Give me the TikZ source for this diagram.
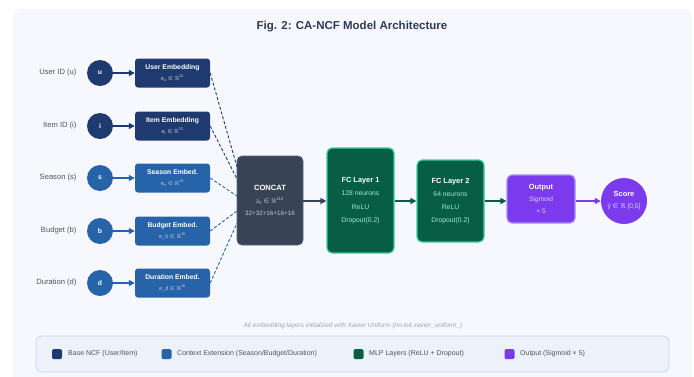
\documentclass[tikz,border=0pt]{standalone}
\usepackage{fontspec}
\setmainfont{Liberation Sans}
\newfontfamily\dv{DejaVu Sans}
\usetikzlibrary{arrows.meta}
\definecolor{navy}{HTML}{1E3A6E}
\definecolor{ctxblue}{HTML}{2763A8}
\definecolor{slate}{HTML}{394356}
\definecolor{slateb}{HTML}{59647A}
\definecolor{mlp}{HTML}{075E45}
\definecolor{mlpb}{HTML}{34D399}
\definecolor{outp}{HTML}{7C3AED}
\definecolor{outpb}{HTML}{A78BFA}
\definecolor{panel}{HTML}{F7F8FE}
\definecolor{legfill}{HTML}{EDF1FA}
\definecolor{legdraw}{HTML}{C9D4EA}
\definecolor{titlec}{HTML}{2D3B58}
\definecolor{lbl}{HTML}{4B5563}
\definecolor{foot}{HTML}{9CA3AF}
\definecolor{subblue}{HTML}{B9C7E2}
\definecolor{subgray}{HTML}{C3C8D2}
\definecolor{subgreen}{HTML}{A7E8CC}
\definecolor{subpurp}{HTML}{DCCFFD}
\newcommand{\fs}[2]{\fontsize{#1}{#2}\selectfont}
\newcommand{\inR}{{\dv ∈ ℝ}}
\tikzset{
  inputc/.style={circle, minimum size=26pt, inner sep=0pt, text=white, font=\fs{6.8}{8}\bfseries},
  embbox/.style={rounded corners=3pt, minimum width=75pt, minimum height=29pt, inner sep=0pt, align=center, text=white, font=\fs{5.6}{11}},
  inlabel/.style={anchor=east, text=lbl, font=\fs{7.6}{9}},
  bigbox/.style={rounded corners=5pt, inner sep=0pt, align=center, line width=1.2pt},
  conn/.style={line width=1.3pt, -{Triangle[length=6pt,width=6pt]}},
  dashline/.style={dashed, dash pattern=on 3pt off 2pt, line width=0.9pt},
  legsq/.style={rounded corners=1.5pt, minimum size=10pt, inner sep=0pt},
  legtxt/.style={anchor=west, text=lbl, font=\fs{7}{8}, inner sep=0pt}
}
\begin{document}
\begin{tikzpicture}[x=1pt,y=-1pt]
\useasboundingbox (0,0) rectangle (694,376);
\fill[white] (0,0) rectangle (694,376);
\fill[panel, rounded corners=8pt] (13,9) rectangle (692,395);

\node[text=titlec, font=\fs{11.5}{13}\bfseries] (title) at (352,27) {Fig. 2: CA-NCF Model Architecture};

% inputs
\node[inputc, fill=navy] (u) at (100,73) {u};
\node[inputc, fill=navy] (i) at (100,126) {i};
\node[inputc, fill=ctxblue] (s) at (100,178) {s};
\node[inputc, fill=ctxblue] (b) at (100,231) {b};
\node[inputc, fill=ctxblue] (d) at (100,283) {d};

\node[inlabel] (lu) at (80,73) {User ID (u)};
\node[inlabel] (li) at (80,126) {Item ID (i)};
\node[inlabel] (ls) at (80,178) {Season (s)};
\node[inlabel] (lb) at (80,231) {Budget (b)};
\node[inlabel] (ld) at (80,283) {Duration (d)};

% embeddings
\node[embbox, fill=navy] (eu) at (172.5,73) {{\fs{6.8}{11}\bfseries User Embedding}\\ \textcolor{subblue}{e\textsubscript{u} \inR\textsuperscript{32}}};
\node[embbox, fill=navy] (ei) at (172.5,126) {{\fs{6.8}{11}\bfseries Item Embedding}\\ \textcolor{subblue}{e\textsubscript{i} \inR\textsuperscript{32}}};
\node[embbox, fill=ctxblue] (es) at (172.5,178) {{\fs{6.8}{11}\bfseries Season Embed.}\\ \textcolor{subblue}{e\textsubscript{s} \inR\textsuperscript{16}}};
\node[embbox, fill=ctxblue] (eb) at (172.5,231) {{\fs{6.8}{11}\bfseries Budget Embed.}\\ \textcolor{subblue}{e\_b \inR\textsuperscript{16}}};
\node[embbox, fill=ctxblue] (ed) at (172.5,283) {{\fs{6.8}{11}\bfseries Duration Embed.}\\ \textcolor{subblue}{e\_d \inR\textsuperscript{16}}};

\draw[conn, navy] (u) -- (eu);
\draw[conn, navy] (i) -- (ei);
\draw[conn, ctxblue] (s) -- (es);
\draw[conn, ctxblue] (b) -- (eb);
\draw[conn, ctxblue] (d) -- (ed);

% concat
\coordinate (cw) at (237,200.5);
\draw[dashline, navy] (eu.east) -- ([yshift=33.5pt]cw);
\draw[dashline, navy] (ei.east) -- ([yshift=21.5pt]cw);
\draw[dashline, ctxblue] (es.east) -- ([yshift=4.5pt]cw);
\draw[dashline, ctxblue] (eb.east) -- ([yshift=-10.5pt]cw);
\draw[dashline, ctxblue] (ed.east) -- ([yshift=-22.5pt]cw);

\node[bigbox, fill=slate, draw=slateb, line width=0.8pt, minimum width=66pt, minimum height=89pt, text=subgray, font=\fs{6.3}{12.5}] (cc) at (270,200.5)
  {{\fs{7.6}{12.5}\bfseries\color{white} CONCAT}\\ z\textsubscript{0} \inR\textsuperscript{112}\\ 32+32+16+16+16};

\node[bigbox, fill=mlp, draw=mlpb, minimum width=67pt, minimum height=105pt, text=subgreen, font=\fs{6.8}{13.3}] (fc1) at (360.5,200.5)
  {{\fs{7.4}{13.3}\bfseries\color{white} FC Layer 1}\\ 128 neurons\\ ReLU\\ Dropout(0.2)};

\node[bigbox, fill=mlp, draw=mlpb, minimum width=67pt, minimum height=82pt, text=subgreen, font=\fs{6.8}{13}] (fc2) at (450.5,201)
  {{\fs{7.4}{13}\bfseries\color{white} FC Layer 2}\\ 64 neurons\\ ReLU\\ Dropout(0.2)};

\node[bigbox, fill=outp, draw=outpb, minimum width=68pt, minimum height=48pt, text=subpurp, font=\fs{6.6}{12}] (out) at (541,199)
  {{\fs{7.4}{12}\bfseries\color{white} Output}\\ Sigmoid\\ × 5};

\node[circle, fill=outp, minimum size=46pt, inner sep=0pt, align=center, text=subpurp, font=\fs{6.6}{12}] (score) at (624,201)
  {{\fs{7.4}{12}\bfseries\color{white} Score}\\ ŷ \inR{} [0,5]};

\draw[conn, slate] (cc.east |- 0,201) -- (fc1.west |- 0,201);
\draw[conn, mlp] (fc1.east |- 0,201) -- (fc2.west |- 0,201);
\draw[conn, mlp] (fc2.east |- 0,201) -- (out.west |- 0,201);
\draw[conn, outp] (out.east |- 0,201) -- (score.west);

% footnote
\node[text=foot, font=\fs{6.5}{8}\itshape] (note) at (353,326) {All embedding layers initialized with Xavier Uniform (nn.init.xavier\_uniform\_)};

% legend
\draw[fill=legfill, draw=legdraw, line width=0.8pt, rounded corners=6pt] (36,336) rectangle (669,372);
\node[legsq, fill=navy] (q1) at (57,354) {};
\node[legtxt] (t1) at (68,354) {Base NCF (User/Item)};
\node[legsq, fill=ctxblue] (q2) at (166.5,354) {};
\node[legtxt] (t2) at (177,354) {Context Extension (Season/Budget/Duration)};
\node[legsq, fill=mlp] (q3) at (358.5,354) {};
\node[legtxt] (t3) at (369,354) {MLP Layers (ReLU + Dropout)};
\node[legsq, fill=outp] (q4) at (509.5,354) {};
\node[legtxt] (t4) at (520,354) {Output (Sigmoid × 5)};
\end{tikzpicture}
\end{document}
